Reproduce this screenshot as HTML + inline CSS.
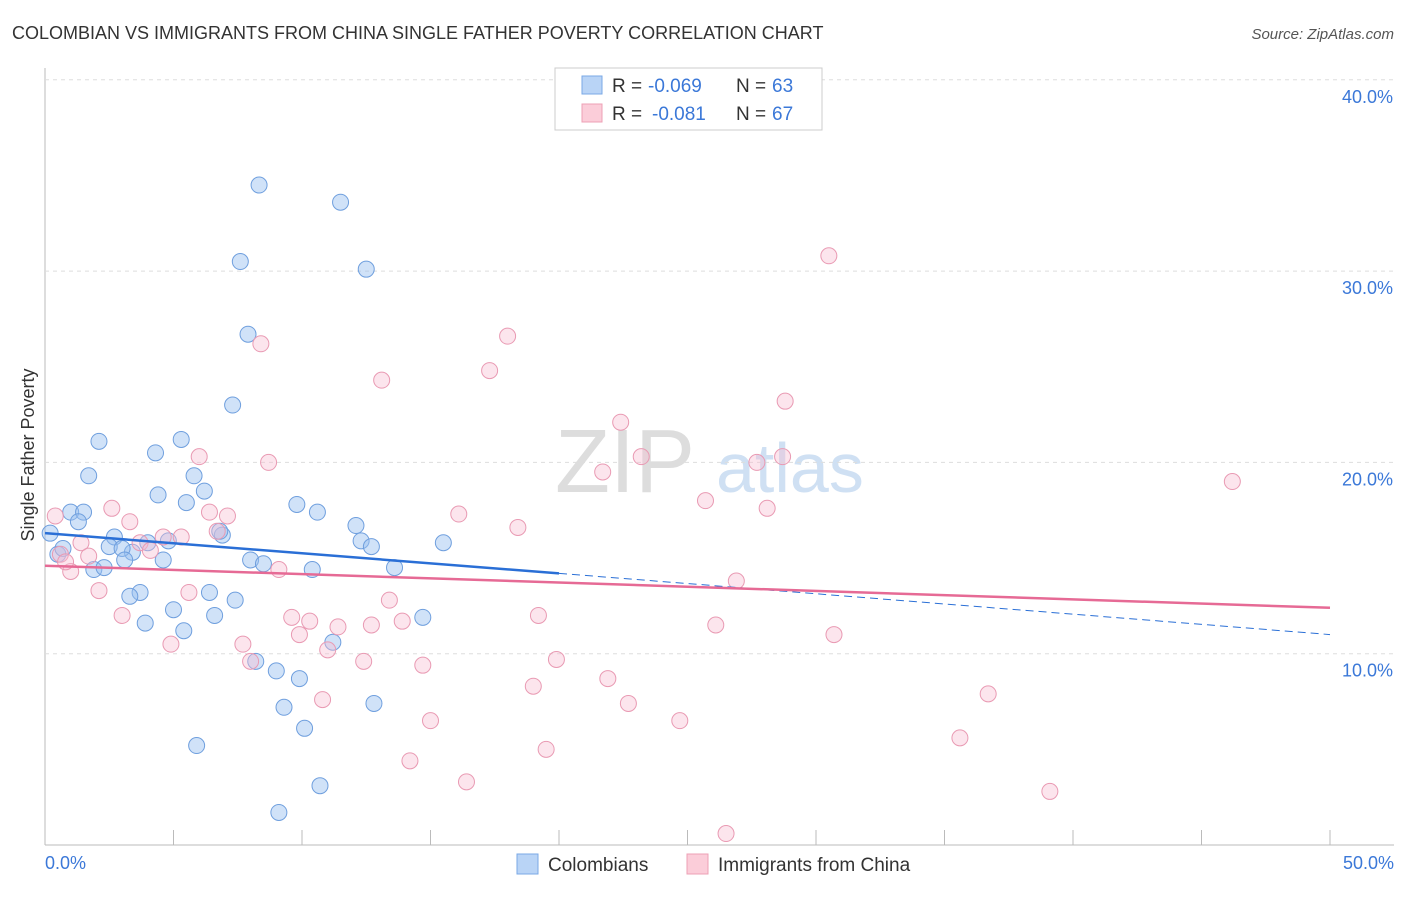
<!DOCTYPE html>
<html><head><meta charset="utf-8"><style>
body{margin:0;background:#fff;font-family:"Liberation Sans",sans-serif;}
svg text{font-family:"Liberation Sans",sans-serif;}
</style></head><body>
<svg id="c" width="1406" height="892">
<text x="12" y="39" font-size="18" fill="#333">COLOMBIAN VS IMMIGRANTS FROM CHINA SINGLE FATHER POVERTY CORRELATION CHART</text>
<text x="1394" y="39" font-size="15" fill="#555" text-anchor="end" font-style="italic">Source: ZipAtlas.com</text>
<text x="555" y="492" font-size="90" fill="#ddd" font-family="Liberation Serif">ZIP</text>
<text x="716" y="492" font-size="70" fill="#cfe0f3">atlas</text>
<g id="grid"></g><g id="pts"></g><g id="lines"></g>
<text x="34" y="455" font-size="18" fill="#333" transform="rotate(-90 34 455)" text-anchor="middle">Single Father Poverty</text>
<text x="45" y="869" font-size="18" fill="#3b78d8">0.0%</text>
<text x="1394" y="869" font-size="18" fill="#3b78d8" text-anchor="end">50.0%</text>
<g>
<rect x="555" y="68" width="267" height="62" fill="#fff" stroke="#ccc"/>
<rect x="582" y="76" width="20" height="18" fill="#b9d4f6" stroke="#7aa8e6"/>
<rect x="582" y="104" width="20" height="18" fill="#fbcdd9" stroke="#eea0b5"/>
<text x="612" y="92" font-size="19" fill="#333">R =</text>
<text x="648" y="92" font-size="19" fill="#3b78d8">-0.069</text>
<text x="736" y="92" font-size="19" fill="#333">N =</text>
<text x="772" y="92" font-size="19" fill="#3b78d8">63</text>
<text x="612" y="120" font-size="19" fill="#333">R =</text>
<text x="652" y="120" font-size="19" fill="#3b78d8">-0.081</text>
<text x="736" y="120" font-size="19" fill="#333">N =</text>
<text x="772" y="120" font-size="19" fill="#3b78d8">67</text>
</g>
<g>
<rect x="517" y="854" width="21" height="20" fill="#b9d4f6" stroke="#7aa8e6"/>
<text x="548" y="871" font-size="19" fill="#333">Colombians</text>
<rect x="687" y="854" width="21" height="20" fill="#fbcdd9" stroke="#eea0b5"/>
<text x="718" y="871" font-size="19" fill="#333">Immigrants from China</text>
</g>
</svg>
<script>
const yTicks=[10,20,30,40];
const xTicks=[0,5,10,15,20,25,30,35,40,45,50];
const blueX=[8.33,11.5,7.6,12.5,7.9,7.3,2.1,5.3,4.3,1.7,5.8,4.4,5.5,6.2,9.8,10.6,1.0,1.5,1.3,12.1,12.3,12.7,15.5,6.9,6.8,2.7,4.0,2.5,3.4,3.0,4.8,4.6,8.0,8.5,3.1,1.9,2.3,10.4,13.6,0.5,0.7,0.2,3.7,3.3,6.4,7.4,5.0,6.6,3.9,5.4,14.7,11.2,8.2,9.0,9.9,9.3,12.8,10.1,5.9,10.7,9.1];
const blueY=[34.5,33.6,30.5,30.1,26.7,23.0,21.1,21.2,20.5,19.3,19.3,18.3,17.9,18.5,17.8,17.4,17.4,17.4,16.9,16.7,15.9,15.6,15.8,16.2,16.4,16.1,15.8,15.6,15.3,15.5,15.9,14.9,14.9,14.7,14.9,14.4,14.5,14.4,14.5,15.2,15.5,16.3,13.2,13.0,13.2,12.8,12.3,12.0,11.6,11.2,11.9,10.6,9.6,9.1,8.7,7.2,7.4,6.1,5.2,3.1,1.7];
const pinkX=[30.5,18.0,8.4,13.1,17.3,28.8,22.4,28.7,23.2,27.7,21.7,46.2,6.0,8.7,25.7,28.1,2.6,16.1,18.4,7.1,3.3,6.4,6.7,4.6,5.3,3.7,4.1,1.4,1.7,0.4,0.6,1.0,0.8,9.1,26.9,2.1,5.6,13.4,3.0,9.6,10.3,13.9,12.7,19.2,26.1,30.7,9.9,11.4,7.7,4.9,11.0,8.0,12.4,14.7,19.9,21.9,19.0,10.8,36.7,22.7,15.0,24.7,35.6,19.5,14.2,16.4,39.1,26.5];
const pinkY=[30.8,26.6,26.2,24.3,24.8,23.2,22.1,20.3,20.3,20.0,19.5,19.0,20.3,20.0,18.0,17.6,17.6,17.3,16.6,17.2,16.9,17.4,16.4,16.1,16.1,15.8,15.4,15.8,15.1,17.2,15.2,14.3,14.8,14.4,13.8,13.3,13.2,12.8,12.0,11.9,11.7,11.7,11.5,12.0,11.5,11.0,11.0,11.4,10.5,10.5,10.2,9.6,9.6,9.4,9.7,8.7,8.3,7.6,7.9,7.4,6.5,6.5,5.6,5.0,4.4,3.3,2.8,0.6];
const blueTrend=[16.3,14.2,11.0]; // at x=0, 20, 50
const pinkTrend=[14.6,12.4]; // at x=0, 50
const NS="http://www.w3.org/2000/svg";
const X=v=>45+v*25.7, Y=v=>845-v*19.13;
function mk(tag,attrs,parent){const e=document.createElementNS(NS,tag);for(const k in attrs)e.setAttribute(k,attrs[k]);document.getElementById(parent).appendChild(e);return e;}
mk('line',{x1:45,y1:68,x2:45,y2:845,stroke:'#bbb'},'grid');
mk('line',{x1:45,y1:845,x2:1394,y2:845,stroke:'#bbb'},'grid');
yTicks.forEach(t=>{
 const l=mk('line',{x1:45,x2:1394,y1:Y(t),y2:Y(t),stroke:'#ddd','stroke-dasharray':'4,4'},'grid');
 
 
 const tx=mk('text',{x:1393,y:Y(t)+23,'font-size':18,fill:'#3b78d8','text-anchor':'end'},'grid');
 tx.textContent=t.toFixed(1)+'%';
 
 
});
xTicks.forEach(t=>{
 const l=mk('line',{x1:X(t),x2:X(t),y1:830,y2:845,stroke:'#bbb'},'grid');
 
 
});
blueX.forEach((v,i)=>{
 const c=mk('circle',{cx:X(v),cy:Y(blueY[i]),r:8,fill:'rgba(150,190,240,0.45)',stroke:'#6f9fde','stroke-width':1},'pts');
 
 
});
pinkX.forEach((v,i)=>{
 const c=mk('circle',{cx:X(v),cy:Y(pinkY[i]),r:8,fill:'rgba(248,190,210,0.4)',stroke:'#e99ab3','stroke-width':1},'pts');
 
 
});
let b1=mk('line',{x1:X(0),y1:Y(blueTrend[0]),x2:X(20),y2:Y(blueTrend[1]),stroke:'#2a6fd6','stroke-width':2.5},'lines');


let b2=mk('line',{x1:X(20),y1:Y(blueTrend[1]),x2:X(50),y2:Y(blueTrend[2]),stroke:'#2a6fd6','stroke-width':1,'stroke-dasharray':'8,5'},'lines');


let p1=mk('line',{x1:X(0),y1:Y(pinkTrend[0]),x2:X(50),y2:Y(pinkTrend[1]),stroke:'#e66a95','stroke-width':2.5},'lines');


</script>
</body></html>
